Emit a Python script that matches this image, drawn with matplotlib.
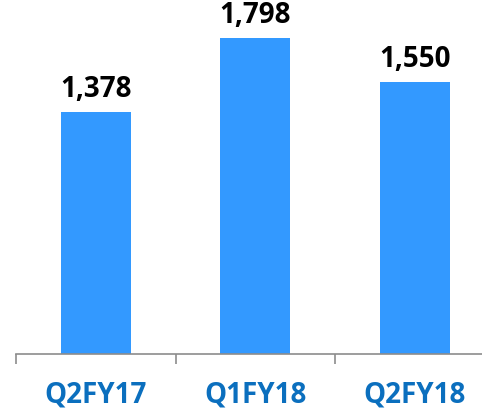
import matplotlib.pyplot as plt
import matplotlib.transforms as mtransforms

quarters = ["Q2FY17", "Q1FY18", "Q2FY18"]
values = [1378, 1798, 1550]

bar_color = "#3399FF"
label_color = "#0B6FBE"

plt.rcParams['font.family'] = ['Open Sans', 'DejaVu Sans']

fig = plt.figure(figsize=(4.82, 4.11), dpi=100)
ax = fig.add_axes([16 / 482, 57 / 411, 478.5 / 482, 354 / 411])

x = list(range(len(quarters)))
ax.bar(x, values, width=0.44, color=bar_color)

for xi, v in zip(x, values):
    ax.text(xi, v + 45, f"{v:,}", ha="center", va="bottom",
            fontsize=20, fontweight="bold", color="black")

ax.set_xlim(-0.5, 2.5)
ax.set_ylim(0, 2014)

for side in ["left", "right", "top"]:
    ax.spines[side].set_visible(False)
ax.spines["bottom"].set_color("#8C8C8C")
ax.spines["bottom"].set_linewidth(1.2)

ax.set_yticks([])
ax.set_xticks([-0.5, 0.5, 1.5, 2.5])
ax.set_xticklabels([])
ax.tick_params(axis="x", direction="out", length=7.5, width=1.2, color="#8C8C8C")

trans = mtransforms.blended_transform_factory(ax.transData, ax.transAxes)
for xi, q in zip(x, quarters):
    ax.text(xi, -41 / 354, q, transform=trans, ha="center", va="center",
            fontsize=20, fontweight="bold", color=label_color)

fig.savefig("out.png", dpi=100)
